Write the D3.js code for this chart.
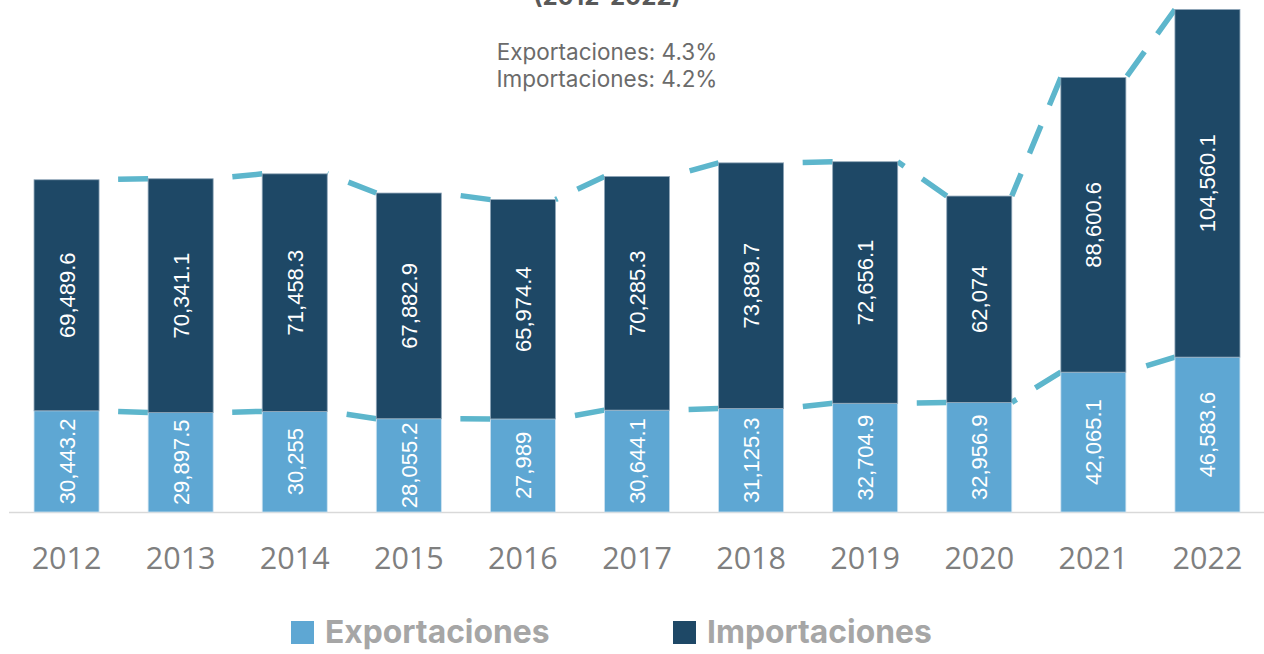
<!DOCTYPE html>
<html>
<head>
<meta charset="utf-8">
<script src="https://cdn.jsdelivr.net/npm/d3@7"></script>
<style>
  body { margin: 0; background: #fff; }
  svg { display: block; }
</style>
</head>
<body>
<div id="chart"></div>
<script>
const years = ["2012", "2013", "2014", "2015", "2016", "2017", "2018", "2019", "2020", "2021", "2022"];
const exportaciones = [30443.2, 29897.5, 30255, 28055.2, 27989, 30644.1, 31125.3, 32704.9, 32956.9, 42065.1, 46583.6];
const importaciones = [69489.6, 70341.1, 71458.3, 67882.9, 65974.4, 70285.3, 73889.7, 72656.1, 62074, 88600.6, 104560.1];
const titleText = "(2012-2022)";
const subtitleLines = ["Exportaciones: 4.3%", "Importaciones: 4.2%"];
const legendLabels = ["Exportaciones", "Importaciones"];

const width = 1264;
const height = 654;
const colors = { exp: "#5ea7d3", imp: "#1e4866", line: "#5db6cc" };

const svg = d3.select("#chart").append("svg").attr("width", width).attr("height", height);

const x = d3.scaleBand().domain(years).range([9.5, 1264.5]).paddingInner(0.43).paddingOuter(0.215);
const y = d3.scaleLinear().domain([0, 154000]).range([512, 0]);
const bw = x.bandwidth();

// title (cut off at the top, as in the source image) and CAGR note
svg
  .append("text")
  .attr("x", 607)
  .attr("y", 5)
  .attr("text-anchor", "middle")
  .attr("font-family", "Inter, 'Open Sans', sans-serif")
  .attr("font-weight", 700)
  .attr("font-size", 24)
  .attr("fill", "#595959")
  .text(titleText);

svg
  .append("g")
  .selectAll("text")
  .data(subtitleLines)
  .join("text")
  .attr("x", 607)
  .attr("y", (d, i) => 60 + i * 27)
  .attr("text-anchor", "middle")
  .attr("font-family", "Inter, 'Open Sans', sans-serif")
  .attr("font-size", 22.5)
  .attr("fill", "#6b6b6b")
  .text((d) => d);

// axis baseline
svg
  .append("line")
  .attr("x1", 9)
  .attr("x2", width)
  .attr("y1", y(0) + 0.5)
  .attr("y2", y(0) + 0.5)
  .attr("stroke", "#d9d9d9")
  .attr("stroke-width", 1.6);

const rows = years.map((year, i) => ({
  year,
  exp: exportaciones[i],
  imp: importaciones[i],
}));

// series lines: from next bar's top-left corner back to previous bar's top-right corner
const seriesTops = [
  rows.map((d) => d.exp),
  rows.map((d) => d.exp + d.imp),
];
seriesTops.forEach((tops) => {
  const segs = d3.pairs(rows.map((d, i) => ({ year: d.year, top: tops[i] })));
  svg
    .append("g")
    .selectAll("line")
    .data(segs)
    .join("line")
    .attr("x1", ([, b]) => x(b.year))
    .attr("y1", ([, b]) => y(b.top))
    .attr("x2", ([a]) => x(a.year) + bw)
    .attr("y2", ([a]) => y(a.top))
    .attr("stroke", colors.line)
    .attr("stroke-width", 5.5)
    .attr("stroke-dasharray", "30,22");
});

// bars
const bars = svg.append("g");
bars
  .selectAll("rect.exp")
  .data(rows)
  .join("rect")
  .attr("class", "exp")
  .attr("x", (d) => x(d.year))
  .attr("width", bw)
  .attr("y", (d) => y(d.exp))
  .attr("height", (d) => y(0) - y(d.exp))
  .attr("fill", colors.exp)
  .attr("stroke", "#cfe3f0")
  .attr("stroke-width", 0.8);

bars
  .selectAll("rect.imp")
  .data(rows)
  .join("rect")
  .attr("class", "imp")
  .attr("x", (d) => x(d.year))
  .attr("width", bw)
  .attr("y", (d) => y(d.exp + d.imp))
  .attr("height", (d) => y(d.exp) - y(d.exp + d.imp))
  .attr("fill", colors.imp)
  .attr("stroke", "#8fa6b8")
  .attr("stroke-width", 0.8);

// value labels (rotated)
const fmt = d3.format(",");
const labels = svg.append("g")
  .attr("font-family", "'Liberation Sans', Arial, sans-serif")
  .attr("font-size", 22)
  .attr("fill", "#fff");

const labelData = rows.flatMap((d) => [
  { year: d.year, value: d.exp, mid: d.exp / 2 },
  { year: d.year, value: d.imp, mid: d.exp + d.imp / 2 },
]);

labels
  .selectAll("text")
  .data(labelData)
  .join("text")
  .attr("transform", (d) => `translate(${x(d.year) + bw / 2 + 8},${y(d.mid)}) rotate(-90)`)
  .attr("text-anchor", "middle")
  .text((d) => fmt(d.value));

// category axis
svg
  .append("g")
  .attr("transform", `translate(0, ${y(0)})`)
  .call(d3.axisBottom(x).tickSize(0).tickPadding(0))
  .call((g) => g.select(".domain").remove())
  .call((g) =>
    g
      .selectAll("text")
      .attr("dy", null)
      .attr("y", 57)
      .attr("font-family", "'Open Sans', sans-serif")
      .attr("font-size", 30.5)
      .attr("fill", "#7f7f7f")
  );

// legend
const legendX = [291, 673];
const legend = svg
  .append("g")
  .selectAll("g")
  .data(legendLabels)
  .join("g")
  .attr("transform", (d, i) => `translate(${legendX[i]}, 621)`);

legend
  .append("rect")
  .attr("width", 23)
  .attr("height", 23)
  .attr("fill", (d, i) => (i === 0 ? colors.exp : colors.imp));

legend
  .append("text")
  .attr("x", 34)
  .attr("y", 22)
  .attr("font-family", "Inter, 'Liberation Sans', sans-serif")
  .attr("font-weight", 700)
  .attr("font-size", 31.8)
  .attr("fill", "#a6a6a6")
  .text((d) => d);
</script>
</body>
</html>
